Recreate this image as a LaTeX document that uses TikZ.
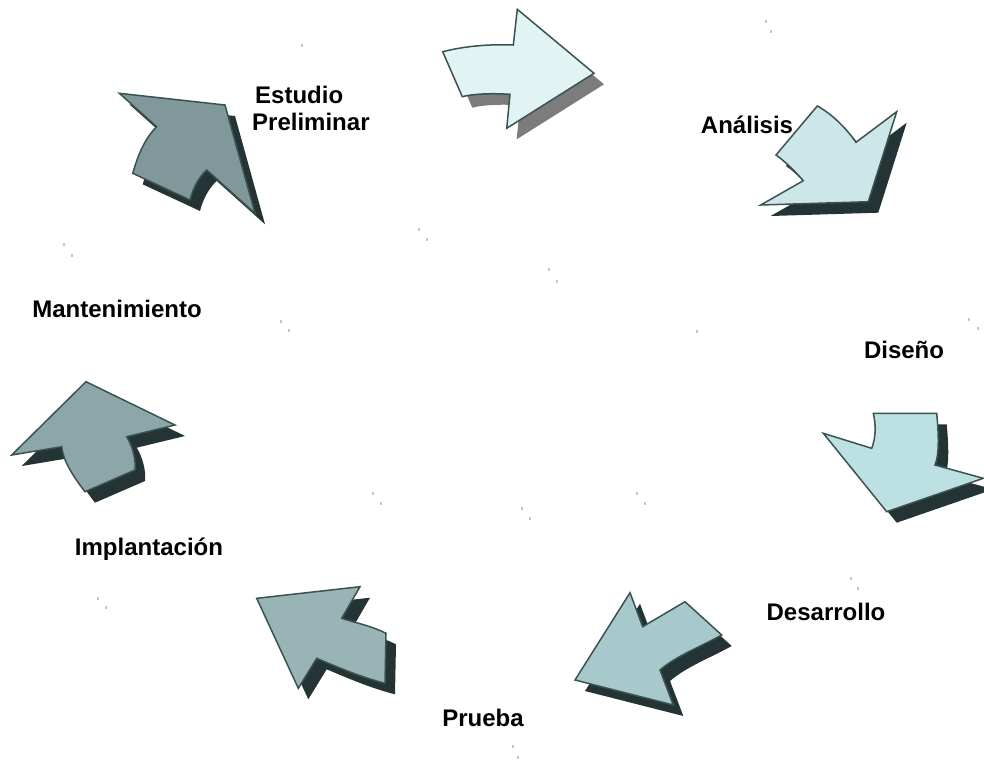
\documentclass[tikz,border=0pt]{standalone}
\usepackage{fontspec}
\setmainfont{Liberation Sans}
\begin{document}
\definecolor{edgecol}{HTML}{3A5252}
\definecolor{darkshade}{HTML}{243434}
\definecolor{greyshade}{HTML}{7C7C7C}
\definecolor{fillA}{HTML}{E2F3F3}
\definecolor{fillB}{HTML}{CDE7E9}
\definecolor{fillC}{HTML}{BDE0E2}
\definecolor{fillD}{HTML}{A7C9CB}
\definecolor{fillE}{HTML}{98B4B5}
\definecolor{fillF}{HTML}{8DA7A8}
\definecolor{fillG}{HTML}{809899}
\definecolor{speck}{HTML}{C4C4C4}
% block arrow: shadow first, then the outlined body
\newcommand\blockarrow[3]{%
  \fill[#2, shift={(10,11)}] #3;
  \draw[arrowline, fill=#1] #3;
}
\begin{tikzpicture}[x=1pt, y=-1pt,
  arrowline/.style={draw=edgecol, line width=1.5pt, line join=miter},
  stage/.style={font=\bfseries\fontsize{24}{27}\selectfont, text=black, inner sep=0pt},
  dot/.style={fill=speck}]
\path[use as bounding box] (0,0) rectangle (984,763);

% Estudio -> Analisis
\blockarrow{fillA}{greyshade}{(442.7,51.7) .. controls (465,46) and (490,44) .. (513.3,45) -- (517.3,9.3) -- (594,73.3) -- (506.7,128.3) -- (510,94.3) .. controls (490,93) and (472,94) .. (462.3,96.7) -- cycle}
% Analisis -> Diseno
\blockarrow{fillB}{darkshade}{(817.3,106) .. controls (832,114) and (846,128) .. (856,142.3) -- (896.7,111.7) -- (868.3,201.7) -- (760.7,205) -- (803.3,180.7) .. controls (792,168) and (783,160) .. (776,155) -- cycle}
% Diseno -> Desarrollo
\blockarrow{fillC}{darkshade}{(873.3,413.3) -- (936.7,413.3) .. controls (939,438) and (939,455) .. (935,465) -- (983.3,478.3) -- (886.7,511.7) -- (823.3,433.3) -- (871.7,448.3) .. controls (876,437) and (876,425) .. cycle}
% Desarrollo -> Prueba
\blockarrow{fillD}{darkshade}{(630,592.7) -- (642.7,626.7) -- (685,601.7) -- (721.7,635) .. controls (700,647) and (676,656) .. (660,670) -- (673.3,705) -- (575,680) -- cycle}
% Prueba -> Implantacion
\blockarrow{fillE}{darkshade}{(256.7,598.3) -- (360,586.7) -- (341.7,618.3) .. controls (356,623) and (372,626) .. (386,633.3) -- (385,683.3) .. controls (360,677) and (335,666) .. (316.7,658.3) -- (298.3,688.3) -- cycle}
% Implantacion -> Mantenimiento
\blockarrow{fillF}{darkshade}{(86,381.7) -- (175,425) -- (126.7,436.7) .. controls (133,447) and (136,460) .. (135,470) -- (85,491.7) .. controls (72,475) and (63,460) .. (61.7,446.7) -- (11.7,455) -- cycle}
% Mantenimiento -> Estudio
\blockarrow{fillG}{darkshade}{(119.3,93.3) -- (225,105) -- (255,213.3) -- (206.7,170) .. controls (199,177) and (193,188) .. (190,200) -- (132.7,173.3) .. controls (138,155) and (145,138) .. (156.7,126.7) -- cycle}

% stage labels
\node[stage, align=left, anchor=west] (estudio) at (252,108) {\hspace*{3pt}Estudio\\Preliminar};
\node[stage] (analisis) at (747,125) {Análisis};
\node[stage] (diseno) at (904,350) {Diseño};
\node[stage] (desarrollo) at (826,612) {Desarrollo};
\node[stage] (prueba) at (483,718) {Prueba};
\node[stage] (implantacion) at (149,549) {Implantación};
\node[stage] (mantenimiento) at (117,309) {Mantenimiento};

% faint specks
\foreach \px/\py in {302/45, 766/21, 771/31, 419/229, 427/239, 549/269, 557/281,
  64/244, 72/255, 281/321, 289/330, 697/331, 969/319, 978/328, 373/493, 381/503,
  522/508, 530/518, 637/493, 645/503, 851/578, 858/588, 98/598, 106/607, 513/746, 518/757}
  \fill[dot] (\px-0.8,\py-1.5) rectangle (\px+0.8,\py+1.5);
\end{tikzpicture}
\end{document}
